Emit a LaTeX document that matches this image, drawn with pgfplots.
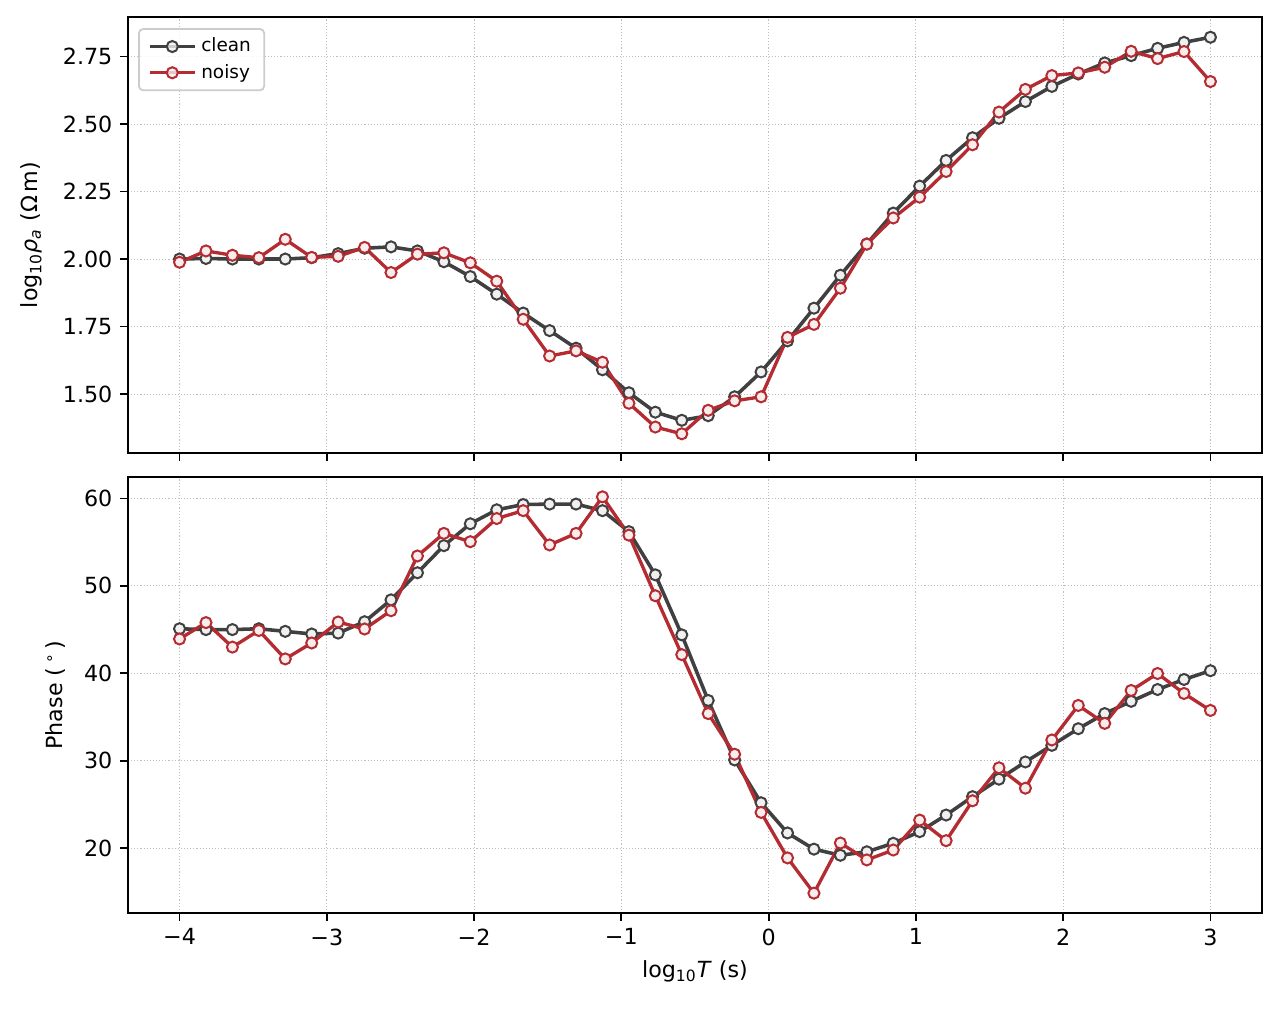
\documentclass[border=0pt]{standalone}
\usepackage{fontspec}
\setmainfont{DejaVu Sans}
\usepackage{pgfplots}
\pgfplotsset{compat=1.18}
\usepackage{pgfplotstable}
\definecolor{cclean}{RGB}{64,64,64}
\definecolor{cnoisy}{RGB}{180,44,50}
\definecolor{fclean}{RGB}{240,240,240}
\definecolor{fnoisy}{RGB}{248,236,237}

\pgfplotstableread{
x rc rn pc pn
-4.0000 2.000 1.988 45.10 43.93
-3.8205 2.002 2.030 45.00 45.80
-3.6410 2.000 2.014 45.00 43.00
-3.4615 2.000 2.005 45.10 44.90
-3.2821 2.000 2.073 44.80 41.65
-3.1026 2.005 2.006 44.50 43.47
-2.9231 2.020 2.010 44.60 45.87
-2.7436 2.040 2.043 45.90 45.07
-2.5641 2.045 1.950 48.40 47.16
-2.3846 2.030 2.018 51.50 53.42
-2.2051 1.990 2.023 54.60 56.00
-2.0256 1.935 1.986 57.10 55.05
-1.8462 1.870 1.918 58.70 57.70
-1.6667 1.800 1.777 59.30 58.60
-1.4872 1.735 1.641 59.35 54.68
-1.3077 1.670 1.660 59.35 56.00
-1.1282 1.590 1.618 58.60 60.18
-0.9487 1.505 1.466 56.20 55.80
-0.7692 1.433 1.378 51.26 48.87
-0.5897 1.403 1.353 44.40 42.14
-0.4103 1.420 1.440 36.90 35.40
-0.2308 1.490 1.475 30.10 30.75
-0.0513 1.582 1.490 25.20 24.10
0.1282 1.697 1.710 21.75 18.90
0.3077 1.818 1.758 19.90 14.87
0.4872 1.940 1.892 19.20 20.60
0.6667 2.056 2.055 19.60 18.67
0.8462 2.170 2.152 20.57 19.80
1.0256 2.270 2.229 21.90 23.22
1.2051 2.365 2.324 23.80 20.87
1.3846 2.449 2.423 25.90 25.43
1.5641 2.521 2.544 27.90 29.20
1.7436 2.583 2.628 29.87 26.87
1.9231 2.639 2.679 31.77 32.38
2.1026 2.685 2.689 33.67 36.33
2.2821 2.726 2.710 35.40 34.28
2.4615 2.753 2.769 36.80 38.04
2.6410 2.780 2.742 38.15 39.98
2.8205 2.802 2.768 39.30 37.70
3.0000 2.821 2.657 40.30 35.76
}\data

\pgfplotsset{
  mystyle/.style={
    scale only axis, width=510.3pt, height=196.2pt,
    xmin=-4.35, xmax=3.35,
    axis line style={line width=0.8pt},
    every tick/.style={black, line width=0.8pt},
    tick align=outside, major tick length=3.5pt,
    xtick pos=bottom, ytick pos=left,
    grid=major,
    major grid style={line width=0.4pt, color=black!25, dash pattern=on 0.5pt off 0.9pt},
    tick label style={font=\fontsize{10}{12}\selectfont},
    label style={font=\fontsize{10}{12}\selectfont},
    /pgf/number format/assume math mode=true,
    xtick={-4,-3,-2,-1,0,1,2,3},
  },
  clean/.style={draw=cclean, line width=1.6pt, mark=*, mark size=2.5pt,
    mark options={solid, line width=0.9pt, draw=cclean, fill=fclean}},
  noisy/.style={draw=cnoisy, line width=1.5pt, mark=*, mark size=2.5pt,
    mark options={solid, line width=0.9pt, draw=cnoisy, fill=fnoisy}},
}

\begin{document}
\begin{tikzpicture}
\begin{axis}[mystyle, at={(57.6pt,250.65pt)}, anchor=south west,
  ymin=1.282, ymax=2.896,
  ytick={1.5,1.75,2,2.25,2.5,2.75},
  yticklabels={1.50,1.75,2.00,2.25,2.50,2.75},
  xticklabels={},
  ylabel={log\textsubscript{10}\textit{ρ}\textsubscript{\textit{a}} (Ω\,m)},
  ylabel shift=2.5pt,
  legend style={at={(0,1)}, anchor=north west, xshift=4.5pt, yshift=-5pt,
    font=\fontsize{8.3}{10}\selectfont, draw=black!20, line width=0.8pt, rounded corners=2pt,
    fill=white, fill opacity=0.8, text opacity=1, inner xsep=4pt, inner ysep=2pt, row sep=0pt},
  legend cell align=left,
  legend image code/.code={
    \draw[mark repeat=2, mark phase=2, #1] plot coordinates {(0cm,0cm) (0.36cm,0cm) (0.72cm,0cm)};
  },
]
\addplot[clean] table[x=x, y=rc] {\data};
\addlegendentry{clean}
\addplot[noisy] table[x=x, y=rn] {\data};
\addlegendentry{noisy}
\end{axis}
\begin{axis}[mystyle, at={(57.6pt,43.65pt)}, anchor=south west,
  ymin=12.6, ymax=62.45,
  ytick={20,30,40,50,60},
  xticklabels={−4,−3,−2,−1,0,1,2,3},
  ylabel={Phase (\,\textsuperscript{∘}\,)},
  ylabel shift=1.5pt,
  xlabel={log\textsubscript{10}\textit{T} (s)},
]
\addplot[clean] table[x=x, y=pc] {\data};
\addplot[noisy] table[x=x, y=pn] {\data};
\end{axis}
\pgfresetboundingbox
\path[use as bounding box] (0,0) rectangle (576pt,454.5pt);
\end{tikzpicture}
\end{document}
